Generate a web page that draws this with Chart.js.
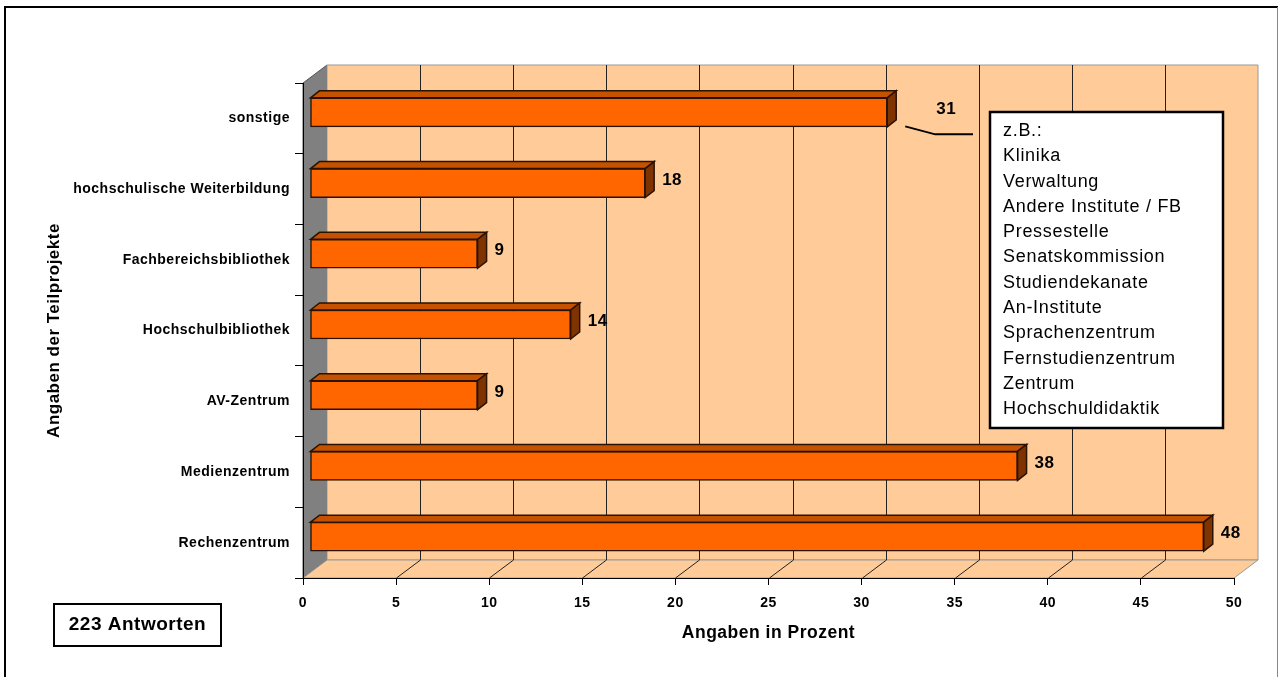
<!DOCTYPE html>
<html>
<head>
<meta charset="utf-8">
<script src="https://cdn.jsdelivr.net/npm/chart.js@4/dist/chart.umd.min.js"></script>
<style>
  html, body { margin: 0; padding: 0; background: #fff; overflow: hidden; }
  canvas { display: block; }
</style>
</head>
<body>
<canvas id="teilprojekteChart" width="1279" height="677"></canvas>
<script>
(function () {
  "use strict";

  const categories = [
    "sonstige",
    "hochschulische Weiterbildung",
    "Fachbereichsbibliothek",
    "Hochschulbibliothek",
    "AV-Zentrum",
    "Medienzentrum",
    "Rechenzentrum",
  ];
  const shares = [31, 18, 9, 14, 9, 38, 48];
  const tickValues = [0, 5, 10, 15, 20, 25, 30, 35, 40, 45, 50];
  const noteLines = [
    "z.B.:",
    "Klinika",
    "Verwaltung",
    "Andere Institute / FB",
    "Pressestelle",
    "Senatskommission",
    "Studiendekanate",
    "An-Institute",
    "Sprachenzentrum",
    "Fernstudienzentrum",
    "Zentrum",
    "Hochschuldidaktik",
  ];
  const responseCount = "223 Antworten";

  const FONT = '"Liberation Sans", Arial, Helvetica, sans-serif';
  const SPACING = "0.5px";

  // depth of the 3D box (walls/floor) and of the bars
  const WALL_DX = 24, WALL_DY = 18;
  const BAR_DX = 7, BAR_DY = -6;
  const CAP_DX = 9, CAP_DY = 7;

  const poly = (ctx, pts, fill, stroke, lw) => {
    ctx.beginPath();
    ctx.moveTo(pts[0][0], pts[0][1]);
    for (let i = 1; i < pts.length; i++) ctx.lineTo(pts[i][0], pts[i][1]);
    ctx.closePath();
    if (fill) { ctx.fillStyle = fill; ctx.fill(); }
    if (stroke) { ctx.strokeStyle = stroke; ctx.lineWidth = lw || 1; ctx.stroke(); }
  };

  const line = (ctx, pts, color, lw) => {
    ctx.beginPath();
    ctx.moveTo(pts[0][0], pts[0][1]);
    for (let i = 1; i < pts.length; i++) ctx.lineTo(pts[i][0], pts[i][1]);
    ctx.strokeStyle = color;
    ctx.lineWidth = lw || 1;
    ctx.stroke();
  };

  const boxPlugin = {
    id: "box3d",
    beforeUpdate(chart) {
      chart.ctx.letterSpacing = SPACING;
    },
    beforeDraw(chart) {
      const ctx = chart.ctx;
      ctx.letterSpacing = SPACING;
      const { width, height } = chart;
      const { left, right, top, bottom } = chart.chartArea;

      ctx.save();
      ctx.fillStyle = "#fff";
      ctx.fillRect(0, 0, width, height);

      // outer frame
      line(ctx, [[5, height], [5, 7], [width - 1, 7]], "#000", 2);
      line(ctx, [[width - 1.5, 7], [width - 1.5, height]], "#888", 1);

      // left side wall
      poly(ctx, [[left, top], [left + WALL_DX, top - WALL_DY], [left + WALL_DX, bottom - WALL_DY], [left, bottom]], "#808080", "#555", 1);
      // back wall
      poly(ctx, [[left + WALL_DX, top - WALL_DY], [right + WALL_DX, top - WALL_DY], [right + WALL_DX, bottom - WALL_DY], [left + WALL_DX, bottom - WALL_DY]], "#FFCC99", "#999", 1);
      // floor
      poly(ctx, [[left, bottom], [left + WALL_DX, bottom - WALL_DY], [right + WALL_DX, bottom - WALL_DY], [right, bottom]], "#FFCC99", "#999", 1);

      // grid lines on back wall and floor
      const xs = chart.scales.x;
      xs.ticks.forEach((t) => {
        if (t.value <= xs.min || t.value >= xs.max) return;
        const px = Math.round(xs.getPixelForValue(t.value)) + 0.5;
        line(ctx, [[px + WALL_DX, top - WALL_DY], [px + WALL_DX, bottom - WALL_DY]], "#222", 1);
        line(ctx, [[px, bottom], [px + WALL_DX, bottom - WALL_DY]], "#222", 1);
      });
      ctx.restore();
    },
    beforeDatasetsDraw(chart) {
      chart.ctx.save();
      chart.ctx.translate(BAR_DX, BAR_DY);
    },
    afterDatasetsDraw(chart) {
      const ctx = chart.ctx;
      const meta = chart.getDatasetMeta(0);
      const calloutIdx = categories.indexOf("sonstige");
      meta.data.forEach((bar, i) => {
        const { x, y, base, height } = bar.getProps(["x", "y", "base", "height"], true);
        const t = y - height / 2, b = y + height / 2;
        poly(ctx, [[base, t], [base + CAP_DX, t - CAP_DY], [x + CAP_DX, t - CAP_DY], [x, t]], "#C45200", "#2a1200", 1.5);
        poly(ctx, [[x, t], [x + CAP_DX, t - CAP_DY], [x + CAP_DX, b - CAP_DY], [x, b]], "#7F3300", "#2a1200", 1.5);

        ctx.font = "bold 17px " + FONT;
        ctx.fillStyle = "#000";
        ctx.textAlign = "left";
        ctx.textBaseline = "middle";
        const shift = i === calloutIdx ? 32 : 0;
        ctx.fillText(String(shares[i]), x + CAP_DX + 8 + shift, y - 3);
      });
      ctx.restore();
    },
    afterDraw(chart) {
      const ctx = chart.ctx;
      const meta = chart.getDatasetMeta(0);
      const calloutIdx = categories.indexOf("sonstige");
      const note = { x: 990, y: 112, w: 233, h: 316 };

      ctx.save();
      // leader line from the "sonstige" bar to the note
      const el = meta.data[calloutIdx];
      const bx = el.x + BAR_DX, by = el.y + BAR_DY;
      line(ctx, [[bx + 18, by + 14], [bx + 48, by + 22], [note.x - 17, by + 22]], "#000", 2);

      // note box
      ctx.fillStyle = "#fff";
      ctx.fillRect(note.x, note.y, note.w, note.h);
      ctx.strokeStyle = "#000";
      ctx.lineWidth = 2.5;
      ctx.strokeRect(note.x, note.y, note.w, note.h);
      ctx.letterSpacing = "0.7px";
      ctx.font = "18px " + FONT;
      ctx.fillStyle = "#000";
      ctx.textAlign = "left";
      ctx.textBaseline = "middle";
      noteLines.forEach((txt, i) => {
        ctx.fillText(txt, note.x + 13, note.y + 19 + i * 25.3);
      });

      // response count box
      ctx.letterSpacing = SPACING;
      ctx.fillStyle = "#fff";
      ctx.fillRect(54, 604, 167, 42);
      ctx.lineWidth = 2;
      ctx.strokeRect(54, 604, 167, 42);
      ctx.font = "bold 19px " + FONT;
      ctx.fillStyle = "#000";
      ctx.textAlign = "center";
      ctx.fillText(responseCount, 54 + 167 / 2, 625);
      ctx.restore();
    },
  };

  const initChart = () => {
    if (!window.Chart) return;
    Chart.defaults.font.family = FONT;
    Chart.defaults.color = "#000";

    new Chart(document.getElementById("teilprojekteChart"), {
      type: "bar",
      data: {
        labels: categories,
        datasets: [
          {
            data: shares,
            backgroundColor: "#FF6600",
            borderColor: "#2a1200",
            borderWidth: 1.5,
            borderSkipped: false,
            barThickness: 29,
          },
        ],
      },
      options: {
        indexAxis: "y",
        responsive: false,
        animation: false,
        devicePixelRatio: 1,
        layout: { padding: { left: 0, top: 83, right: 45, bottom: 0 } },
        plugins: {
          legend: { display: false },
          tooltip: { enabled: false },
        },
        scales: {
          x: {
            min: 0,
            max: 50,
            afterBuildTicks: (s) => { s.ticks = tickValues.map((v) => ({ value: v })); },
            afterFit: (s) => { s.height = 99; },
            grid: { drawOnChartArea: false, color: "#000", tickLength: 7 },
            border: { color: "#000", width: 1 },
            ticks: { color: "#000", padding: 10, maxRotation: 0, autoSkip: false, font: { size: 14, weight: "bold" } },
            title: {
              display: true,
              text: "Angaben in Prozent",
              color: "#000",
              font: { size: 17.5, weight: "bold" },
              padding: { top: 0, bottom: 33 },
            },
          },
          y: {
            afterFit: (s) => { s.width = 303; },
            grid: { drawOnChartArea: false, color: "#000", tickLength: 8, offset: true },
            border: { color: "#000", width: 1 },
            ticks: { color: "#000", padding: 5, font: { size: 14, weight: "bold" } },
            title: {
              display: true,
              text: "Angaben der Teilprojekte",
              color: "#000",
              font: { size: 17, weight: "bold" },
              padding: { top: 44, bottom: 0 },
            },
          },
        },
      },
      plugins: [boxPlugin],
    });
  };

  document.addEventListener("DOMContentLoaded", initChart);
})();
</script>
</body>
</html>
